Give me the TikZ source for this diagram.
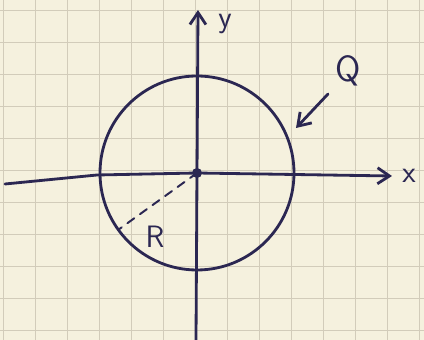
\documentclass[tikz,border=0pt]{standalone}
\usepackage{xcolor}
\usetikzlibrary{arrows.meta,positioning}
\definecolor{paper}{HTML}{F5F1DE}
\definecolor{gridline}{HTML}{D2CCBA}
\definecolor{ink}{HTML}{2B2752}

\begin{document}
\begin{tikzpicture}[x=0.025cm, y=-0.025cm, pen/.style={draw=ink, line width=2pt, line cap=round}, lbl/.style={text=ink, font=\sffamily\fontsize{22}{22}\selectfont, inner sep=1pt}, >={Straight Barb[length=3mm, width=4mm]}]
\fill[paper] (0,0) rectangle (424,340);
\useasboundingbox (0,0) rectangle (424,340);
\foreach \gx in {3,35,...,424} \draw[gridline, line width=0.6pt] (\gx,0) -- (\gx,340);
\foreach \gy in {10,42,...,340} \draw[gridline, line width=0.6pt] (0,\gy) -- (424,\gy);
\coordinate (o) at (197,173);
\coordinate (xs) at (5,184);
\coordinate (xk) at (97,175);
\coordinate (xe) at (392,176);
\coordinate (ys) at (196,340);
\coordinate (ye) at (198,10);
\node[lbl] (xl) at (409,176) {x};
\node[lbl] (yl) at (225,24) {y};
\draw[pen, ->] (xs) -- (xk) -- (o) -- (xe);
\draw[pen, ->] (ys) -- (ye);
\draw[pen] (o) circle[radius=97];
\fill[ink] (o) circle[radius=5];
\coordinate (rim) at (118,230);
\draw[pen, line width=1.4pt, dash pattern=on 6pt off 5pt] (o) -- (rim);
\node[lbl] (r) at (155,237) {R};
\node[lbl, font=\sffamily\fontsize{26}{26}\selectfont] (q) at (348,71) {Q};
\coordinate (qs) at (328,94);
\coordinate (qt) at (296,128);
\draw[pen, ->] (qs) -- (qt);
\end{tikzpicture}
\end{document}
